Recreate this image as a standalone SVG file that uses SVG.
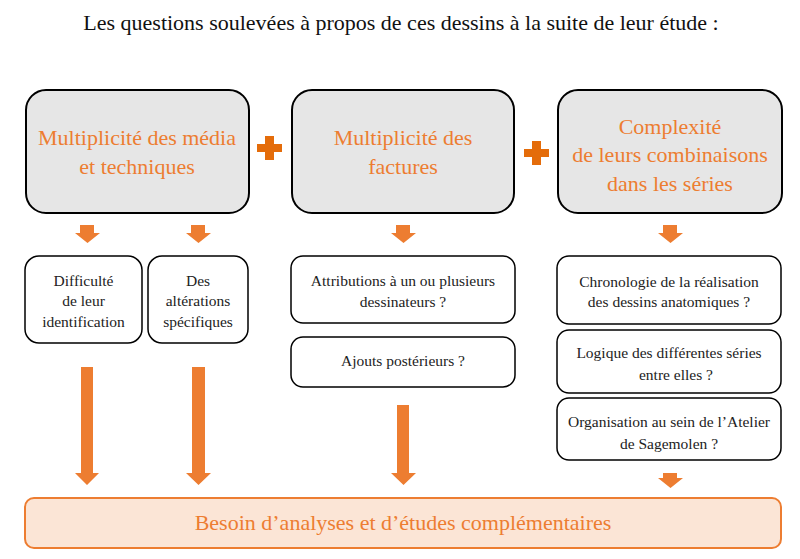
<svg xmlns="http://www.w3.org/2000/svg" width="800" height="559" viewBox="0 0 800 559">
<style>
text{font-family:'Liberation Serif',serif}
.big{fill:#e6e6e6;stroke:#000;stroke-width:2}
.sm{fill:#fff;stroke:#000;stroke-width:1.5}
.ht{font-size:22px;fill:#ed7d31;text-anchor:middle}
.st{font-size:15.5px;fill:#222;text-anchor:middle}
.arr{fill:#ed7d31}
.plus{fill:#e46c0a}
</style>
<rect width="800" height="559" fill="#fff"/>
<text x="401" y="30" font-size="22" fill="#111" text-anchor="middle">Les questions soulevées à propos de ces dessins à la suite de leur étude :</text>

<g id="n1"><rect class="big" x="26" y="90" width="223" height="123" rx="20"/>
<text class="ht" x="137" y="145">Multiplicité des média</text><text class="ht" x="137" y="174">et techniques</text></g>
<g id="n2"><rect class="big" x="292" y="90" width="222" height="123" rx="20"/>
<text class="ht" x="403" y="145">Multiplicité des</text><text class="ht" x="403" y="174">factures</text></g>
<g id="n3"><rect class="big" x="558" y="90" width="224" height="123" rx="20"/>
<text class="ht" x="670" y="134">Complexité</text><text class="ht" x="670" y="162">de leurs combinaisons</text><text class="ht" x="670" y="191">dans les séries</text></g>

<g id="plus1"><path class="plus" d="M265 136h9v8h8v8h-8v8h-9v-8h-8v-8h8z"/></g>
<g id="plus2"><path class="plus" d="M532 141h9v8h8v8h-8v8h-9v-8h-8v-8h8z"/></g>

<g id="n4"><rect class="sm" x="25" y="256" width="117" height="87" rx="14"/>
<text class="st" x="83.5" y="286">Difficulté</text><text class="st" x="83.5" y="306">de leur</text><text class="st" x="83.5" y="327">identification</text></g>
<g id="n5"><rect class="sm" x="148" y="256" width="100" height="87" rx="14"/>
<text class="st" x="198" y="286">Des</text><text class="st" x="198" y="306">altérations</text><text class="st" x="198" y="327">spécifiques</text></g>
<g id="n6"><rect class="sm" x="291" y="256" width="224" height="67" rx="12"/>
<text class="st" x="403" y="286">Attributions à un ou plusieurs</text><text class="st" x="403" y="307">dessinateurs ?</text></g>
<g id="n7"><rect class="sm" x="291" y="337" width="224" height="50" rx="12"/>
<text class="st" x="403" y="366">Ajouts postérieurs ?</text></g>
<g id="n8"><rect class="sm" x="557" y="256" width="224" height="68" rx="12"/>
<text class="st" x="669" y="287">Chronologie de la réalisation</text><text class="st" x="669" y="307">des dessins anatomiques ?</text></g>
<g id="n9"><rect class="sm" x="557" y="330" width="224" height="63" rx="12"/>
<text class="st" x="669" y="358">Logique des différentes séries</text><text class="st" x="676" y="380">entre elles ?</text></g>
<g id="n10"><rect class="sm" x="557" y="398" width="224" height="62" rx="12"/>
<text class="st" x="669" y="427">Organisation au sein de l’Atelier</text><text class="st" x="669" y="449">de Sagemolen ?</text></g>
<g id="n11"><rect x="25" y="498" width="756" height="50" rx="9" fill="#fbe5d6" stroke="#ed7d31" stroke-width="2"/>
<text class="ht" x="403" y="530">Besoin d’analyses et d’études complémentaires</text></g>

<g id="connectors">
<path class="arr" d="M80 225h14v8h6l-12.5 10l-12.5-10h5z"/>
<path class="arr" d="M191 225h14v8h6l-12.5 10l-12.5-10h5z"/>
<path class="arr" d="M396 225h14v8h6l-12.5 10l-12.5-10h5z"/>
<path class="arr" d="M663 225h14v8h6l-12.5 10l-12.5-10h5z"/>
<path class="arr" d="M663 473h14v5h6l-12.5 10l-12.5-10h5z"/>
<path class="arr" d="M81 367h12v106h6l-12 12l-12-12h6z"/>
<path class="arr" d="M192 367h13v106h6l-12.5 12l-12.5-12h6z"/>
<path class="arr" d="M397 405h12v68h7l-12.5 12l-12.5-12h6z"/>
</g>
</svg>
